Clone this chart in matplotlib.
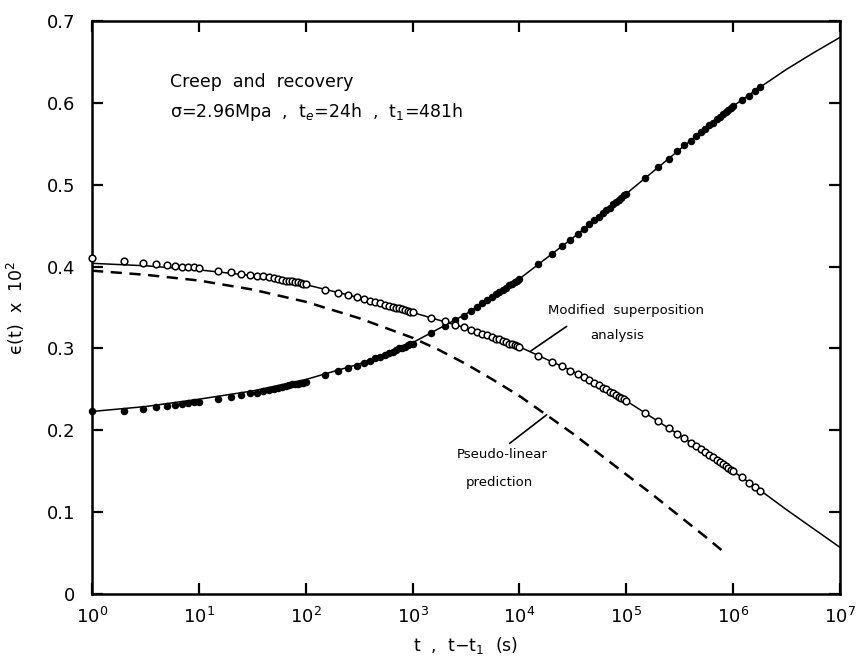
import matplotlib
matplotlib.use("Agg")
import matplotlib.pyplot as plt
from matplotlib.ticker import FixedLocator, FixedFormatter

# --- measured data (creep and recovery) -------------------------------------
# time (s) for creep, t - t1 (s) for recovery; same sampling for both
t_data = [
    1, 2, 3, 4, 5, 6, 7, 8, 9, 10,
    15, 20, 25, 30, 35, 40, 45, 50, 55, 60, 65, 70, 75, 80, 85, 90, 95, 100,
    150, 200, 250, 300, 350, 400, 450, 500, 550, 600, 650, 700, 750, 800,
    850, 900, 950, 1000,
    1.5e3, 2e3, 2.5e3, 3e3, 3.5e3, 4e3, 4.5e3, 5e3, 5.5e3, 6e3, 6.5e3, 7e3,
    7.5e3, 8e3, 8.5e3, 9e3, 9.5e3, 1e4,
    1.5e4, 2e4, 2.5e4, 3e4, 3.5e4, 4e4, 4.5e4, 5e4, 5.5e4, 6e4, 6.5e4, 7e4,
    7.5e4, 8e4, 8.5e4, 9e4, 9.5e4, 1e5,
    1.5e5, 2e5, 2.5e5, 3e5, 3.5e5, 4e5, 4.5e5, 5e5, 5.5e5, 6e5, 6.5e5, 7e5,
    7.5e5, 8e5, 8.5e5, 9e5, 9.5e5, 1e6,
    1.2e6, 1.4e6, 1.6e6, 1.8e6,
]
creep_data = [
    0.224, 0.223, 0.226, 0.228, 0.230, 0.231, 0.232, 0.233, 0.234, 0.235,
    0.238, 0.241, 0.243, 0.245, 0.246, 0.248, 0.249, 0.251, 0.252, 0.253,
    0.254, 0.255, 0.256, 0.256, 0.257, 0.258, 0.258, 0.259,
    0.268, 0.272, 0.276, 0.279, 0.282, 0.285, 0.288, 0.290, 0.292, 0.294,
    0.296, 0.298, 0.300, 0.301, 0.302, 0.304, 0.305, 0.306,
    0.319, 0.328, 0.335, 0.340, 0.346, 0.351, 0.355, 0.359, 0.363, 0.366,
    0.369, 0.372, 0.374, 0.377, 0.379, 0.381, 0.383, 0.385,
    0.403, 0.415, 0.425, 0.433, 0.440, 0.446, 0.452, 0.457, 0.461, 0.465,
    0.469, 0.472, 0.476, 0.479, 0.481, 0.484, 0.487, 0.489,
    0.508, 0.522, 0.532, 0.541, 0.548, 0.554, 0.559, 0.564, 0.568, 0.573,
    0.576, 0.580, 0.583, 0.586, 0.589, 0.591, 0.594, 0.596,
    0.603, 0.609, 0.615, 0.619,
]
recovery_data = [
    0.411, 0.407, 0.404, 0.403, 0.402, 0.401, 0.400, 0.399, 0.399, 0.398,
    0.395, 0.393, 0.391, 0.390, 0.389, 0.388, 0.387, 0.386, 0.385, 0.384,
    0.383, 0.382, 0.382, 0.381, 0.381, 0.380, 0.379, 0.379,
    0.372, 0.368, 0.365, 0.363, 0.360, 0.358, 0.357, 0.355, 0.353, 0.352,
    0.351, 0.350, 0.349, 0.348, 0.347, 0.346, 0.345, 0.344,
    0.337, 0.333, 0.329, 0.326, 0.323, 0.320, 0.318, 0.316, 0.314, 0.312,
    0.311, 0.309, 0.308, 0.306, 0.305, 0.304, 0.303, 0.302,
    0.291, 0.284, 0.278, 0.273, 0.269, 0.265, 0.261, 0.258, 0.255, 0.252,
    0.250, 0.247, 0.245, 0.243, 0.241, 0.239, 0.238, 0.236,
    0.221, 0.211, 0.203, 0.196, 0.190, 0.185, 0.181, 0.177, 0.173, 0.170,
    0.167, 0.164, 0.161, 0.159, 0.156, 0.154, 0.152, 0.150,
    0.143, 0.136, 0.131, 0.126,
]

# --- model curves -------------------------------------------------------------
t_model = [1, 3.16, 10, 31.6, 100, 316, 1e3, 3.16e3, 1e4, 3.16e4, 1e5,
           3.16e5, 1e6, 1.78e6, 3.16e6, 5.62e6, 1e7]
creep_model = [0.223, 0.229, 0.238, 0.248, 0.262, 0.281, 0.307, 0.342, 0.385,
               0.435, 0.489, 0.543, 0.596, 0.619, 0.641, 0.661, 0.680]
recovery_model = [0.404, 0.401, 0.396, 0.389, 0.378, 0.362, 0.344, 0.325,
                  0.302, 0.272, 0.236, 0.194, 0.150, 0.127, 0.103, 0.080,
                  0.057]

t_pseudo = [1, 3.16, 10, 31.6, 100, 316, 1e3, 1.78e3, 3.16e3, 5.62e3, 1e4,
            1.78e4, 3.16e4, 5.62e4, 1e5, 1.78e5, 3.16e5, 5.62e5, 7.9e5]
pseudo_linear = [0.395, 0.390, 0.383, 0.372, 0.357, 0.337, 0.313, 0.298,
                 0.281, 0.262, 0.242, 0.219, 0.196, 0.171, 0.146, 0.121,
                 0.095, 0.069, 0.053]

y_ticks = [0, 0.1, 0.2, 0.3, 0.4, 0.5, 0.6, 0.7]
y_tick_labels = ["0", "0.1", "0.2", "0.3", "0.4", "0.5", "0.6", "0.7"]
x_ticks = [1, 1e1, 1e2, 1e3, 1e4, 1e5, 1e6, 1e7]
x_tick_labels = ["$10^{0}$", "$10^{1}$", "$10^{2}$", "$10^{3}$",
                 "$10^{4}$", "$10^{5}$", "$10^{6}$", "$10^{7}$"]

plt.rcParams["font.family"] = ["DejaVu Sans"]
plt.rcParams["mathtext.fontset"] = "dejavusans"

fig = plt.figure(figsize=(8.58, 6.59), dpi=100)
ax = fig.add_axes([0.1072, 0.0986, 0.8718, 0.8695])

ax.plot(t_model, creep_model, color="black", lw=1.1, zorder=2)
ax.plot(t_model, recovery_model, color="black", lw=1.1, zorder=2)
ax.plot(t_pseudo, pseudo_linear, color="black", lw=1.8,
        linestyle=(0, (4.5, 3.0)), zorder=2)

ax.plot(t_data, creep_data, linestyle="none", marker="o", ms=4.4,
        mfc="black", mec="black", zorder=3, clip_on=False)
ax.plot(t_data, recovery_data, linestyle="none", marker="o", ms=4.8,
        mfc="white", mec="black", mew=1.1, zorder=3, clip_on=False)

ax.set_xscale("log")
ax.set_xlim(1, 1e7)
ax.set_ylim(0, 0.7)
ax.xaxis.set_major_locator(FixedLocator(x_ticks))
ax.xaxis.set_major_formatter(FixedFormatter(x_tick_labels))
ax.xaxis.set_minor_locator(FixedLocator([]))
ax.yaxis.set_major_locator(FixedLocator(y_ticks))
ax.yaxis.set_major_formatter(FixedFormatter(y_tick_labels))

ax.tick_params(axis="both", which="major", direction="in", length=8,
               width=1.6, top=True, right=True, labelsize=13)
ax.tick_params(axis="x", pad=9)
ax.tick_params(axis="y", pad=12)
for s in ax.spines.values():
    s.set_linewidth(1.8)

ax.set_xlabel("t  ,  t$-$t$_1$  (s)", fontsize=12.5, labelpad=6)
ax.set_ylabel("ϵ(t)  x  10$^2$", fontsize=12.5, labelpad=14)

ax.text(0.104, 0.894, "Creep  and  recovery", transform=ax.transAxes,
        fontsize=12.5, va="center", ha="left")
ax.text(0.104, 0.841, "σ=2.96Mpa  ,  t$_e$=24h  ,  t$_1$=481h",
        transform=ax.transAxes, fontsize=12.5, va="center", ha="left")

ax.text(0.610, 0.494, "Modified  superposition", transform=ax.transAxes,
        fontsize=9.5, va="center", ha="left")
ax.text(0.702, 0.452, "analysis", transform=ax.transAxes,
        fontsize=9.5, va="center", ha="center")
ax.annotate("", xy=(1.28e4, 0.297), xytext=(2.77e4, 0.327),
            arrowprops=dict(arrowstyle="-", lw=1.2, shrinkA=0, shrinkB=0))

ax.text(0.488, 0.243, "Pseudo-linear", transform=ax.transAxes,
        fontsize=9.5, va="center", ha="left")
ax.text(0.544, 0.195, "prediction", transform=ax.transAxes,
        fontsize=9.5, va="center", ha="center")
ax.annotate("", xy=(1.8e4, 0.219), xytext=(8.1e3, 0.184),
            arrowprops=dict(arrowstyle="-", lw=1.2, shrinkA=0, shrinkB=0))

fig.savefig("out.png", dpi=100)
